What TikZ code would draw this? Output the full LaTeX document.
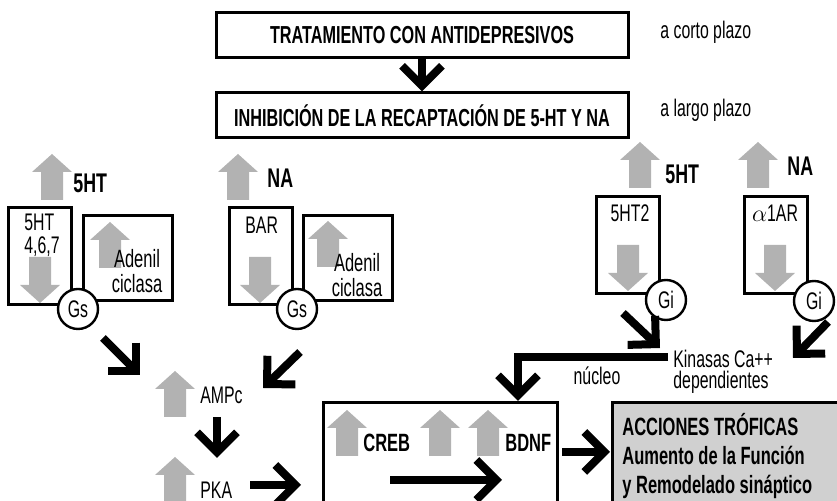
\documentclass[tikz,border=0pt]{standalone}
\usepackage{fontspec}
\setmainfont[FakeStretch=0.66]{Liberation Sans}
\usetikzlibrary{positioning, arrows.meta}

\definecolor{arrowgray}{RGB}{178,178,178}
\definecolor{boxgray}{RGB}{208,208,208}

\begin{document}
\begin{tikzpicture}[x=0.5pt,y=-0.5pt,
    font=\fontsize{12}{12.5}\selectfont,
    every node/.style={inner sep=0pt},
    thickarrow/.style={-{Straight Barb[length=10pt,width=20pt,sharp]}, line width=4pt, line join=miter},
    mainbox/.style={draw, line width=1.5pt, minimum width=206pt, minimum height=22.5pt, font=\fontsize{12.3}{13}\selectfont\bfseries},
    recbox/.style={draw, line width=1.5pt, minimum width=31.5pt, minimum height=48.5pt},
    acbox/.style={draw, line width=1.5pt, minimum width=44.5pt, minimum height=42.5pt},
    gprot/.style={circle, draw, fill=white, line width=1.2pt, minimum size=20pt},
    biglabel/.style={font=\fontsize{13.5}{14}\selectfont\bfseries},
    midlabel/.style={font=\fontsize{12.5}{14}\selectfont\bfseries},
    upbar/.pic={\fill[arrowgray] (-11,0) -- (-11,-28) -- (-20,-28) -- (0,-46) -- (20,-28) -- (11,-28) -- (11,0) -- cycle;},
    downbar/.pic={\fill[arrowgray] (-11,0) -- (-11,28) -- (-20,28) -- (0,46) -- (20,28) -- (11,28) -- (11,0) -- cycle;}]
  \useasboundingbox (0,0) rectangle (837,501);
  \clip (0,0) rectangle (837,501);

  % tratamiento
  \node[mainbox] (trat_box) at (422,35.5) {TRATAMIENTO CON ANTIDEPRESIVOS};
  \node[mainbox] (inhib_box) at (422,115.5) {INHIBICIÓN DE LA RECAPTACIÓN DE 5-HT Y NA};
  \node[anchor=west] (corto) at (660,32) {a corto plazo};
  \node[anchor=west] (largo) at (660,110) {a largo plazo};
  \draw[thickarrow] (trat_box) -- (inhib_box);

  % receptores 5HT 4,6,7
  \pic at (52,200) {upbar};
  \node[biglabel, anchor=west] (ht_left) at (73,183) {5HT};
  \node[recbox] (r5ht_box) at (40,256.5) {};
  \node[align=left, font=\fontsize{12}{11.5}\selectfont] (r5ht_txt) at (42,235) {5HT\\4,6,7};
  \pic at (40,257) {downbar};
  \node[acbox] (ac_left) at (127.5,258.5) {};
  \pic at (110,268) {upbar};
  \node[align=center, font=\fontsize{12.5}{12.5}\selectfont] (ac_left_txt) at (137,271) {Adenil\\ciclasa};
  \node[gprot] (gs_left) at (78,309) {Gs};

  % receptores BAR
  \pic at (238,200) {upbar};
  \node[biglabel, anchor=west] (na_left) at (267,178) {NA};
  \node[recbox] (bar_box) at (261,256.5) {};
  \node[anchor=west] (bar_txt) at (245,225) {BAR};
  \pic at (260,257) {downbar};
  \node[acbox] (ac_right) at (347.5,258.5) {};
  \pic at (328,267) {upbar};
  \node[align=center, font=\fontsize{12.5}{12.5}\selectfont] (ac_right_txt) at (357,275) {Adenil\\ciclasa};
  \node[gprot] (gs_right) at (297,309) {Gs};

  % receptores 5HT2 y alfa1
  \pic at (640,188) {upbar};
  \node[biglabel, anchor=west] (ht_right) at (665,174) {5HT};
  \node[recbox] (r5ht2_box) at (628,245.5) {};
  \node (r5ht2_txt) at (630,213) {5HT2};
  \pic at (628,245) {downbar};
  \node[gprot] (gi_left) at (666,300) {Gi};
  \pic at (758,188) {upbar};
  \node[biglabel, anchor=west] (na_right) at (787,166) {NA};
  \node[recbox] (a1ar_box) at (775.5,245.5) {};
  \node (a1ar_txt) at (775,213) {$\alpha$1AR};
  \pic at (775,245) {downbar};
  \node[gprot] (gi_right) at (814,301) {Gi};

  % segundos mensajeros
  \pic at (175,417) {upbar};
  \node[anchor=west] (ampc) at (200,395) {AMPc};
  \pic at (175,503) {upbar};
  \node[anchor=west] (pka) at (200,490) {PKA};
  \node[anchor=west, align=left, font=\fontsize{12}{10.8}\selectfont] (kinasas) at (673,372) {Kinasas Ca++\\dependientes};
  \node (nucleo_txt) at (597,376) {núcleo};

  % nucleo
  \node[draw, line width=1.5pt, minimum width=117pt, minimum height=60pt] (nucleus) at (440,463) {};
  \pic at (347,456) {upbar};
  \node[midlabel, anchor=west] (creb) at (363,443) {CREB};
  \pic at (440,456) {upbar};
  \pic at (488,456) {upbar};
  \node[midlabel, anchor=west] (bdnf) at (505,443) {BDNF};
  \node[draw, fill=boxgray, line width=1.5pt, minimum width=119pt, minimum height=60pt] (troph_box) at (731,463) {};
  \node[anchor=west, align=left, font=\fontsize{12.5}{14.5}\selectfont\bfseries] (troph_txt) at (622,456) {ACCIONES TRÓFICAS\\Aumento de la Función\\y Remodelado sináptico};

  \coordinate (gs_left_out) at (103,338);
  \coordinate (ampc_in_l) at (140,375);
  \coordinate (gs_right_out) at (300,352);
  \coordinate (ampc_in_r) at (263,388);
  \coordinate (ampc_out) at (217,417);
  \coordinate (pka_in) at (217,458);
  \coordinate (pka_out) at (250,485);
  \coordinate (creb_in) at (301,485);
  \coordinate (gi_left_out) at (623,313);
  \coordinate (kin_in_l) at (660,348);
  \coordinate (gi_right_out) at (828,322);
  \coordinate (kin_in_r) at (793,358);
  \coordinate (kin_out) at (668,357);
  \coordinate (nuc_in) at (518,401);
  \coordinate (creb_out) at (390,480);
  \coordinate (bdnf_in) at (502,480);
  \coordinate (nuc_out) at (562,452);
  \coordinate (troph_in) at (610,452);

  \draw[thickarrow] (gs_left_out) -- (ampc_in_l);
  \draw[thickarrow] (gs_right_out) -- (ampc_in_r);
  \draw[thickarrow] (ampc_out) -- (pka_in);
  \draw[thickarrow] (pka_out) -- (creb_in);
  \draw[thickarrow] (gi_left_out) -- (kin_in_l);
  \draw[thickarrow] (gi_right_out) -- (kin_in_r);
  \draw[thickarrow] (kin_out) -| (nuc_in);
  \draw[thickarrow] (creb_out) -- (bdnf_in);
  \draw[thickarrow] (nuc_out) -- (troph_in);
\end{tikzpicture}
\end{document}
